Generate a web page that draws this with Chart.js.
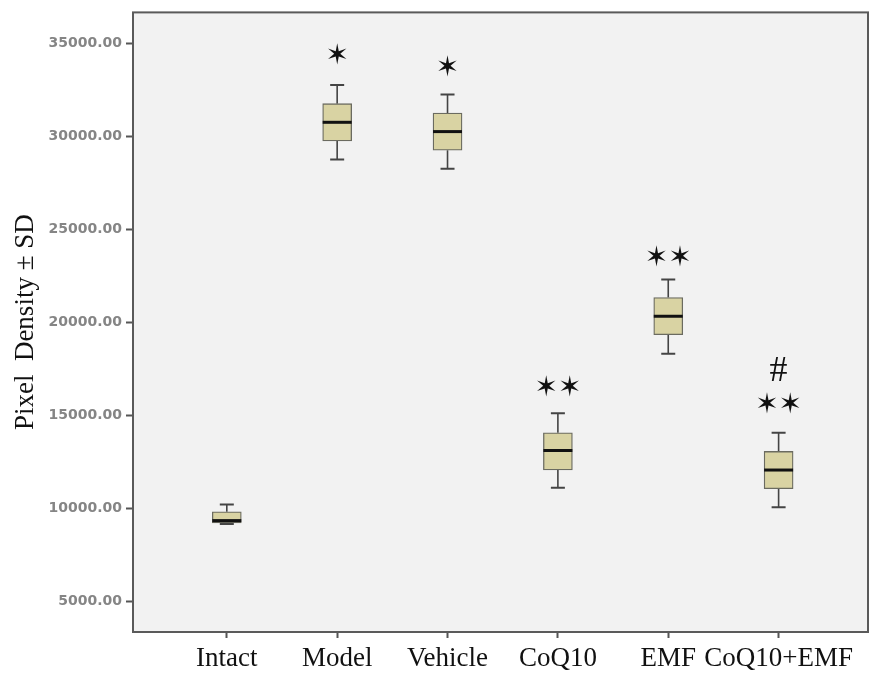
<!DOCTYPE html>
<html>
<head>
<meta charset="utf-8">
<script src="https://cdn.jsdelivr.net/npm/chart.js@4.4.1/dist/chart.umd.min.js"></script>
<style>
  html, body { margin: 0; padding: 0; background: #ffffff; }
  canvas { display: block; }
</style>
</head>
<body>
<canvas id="boxChart" width="871" height="675"></canvas>
<script>
// Groups along the x axis
const categories = ["Intact", "Model", "Vehicle", "CoQ10", "EMF", "CoQ10+EMF"];

// Five-number summaries
const whiskerLow = [9150, 28750, 28250, 11100, 18300, 10050];
const quart1 = [9200, 29750, 29250, 12050, 19330, 11050];
const medians = [9330, 30750, 30250, 13100, 20320, 12050];
const quart3 = [9800, 31750, 31250, 14050, 21330, 13050];
const whiskerHigh = [10200, 32750, 32250, 15100, 22300, 14050];

// Significance marks above the boxes
const markCategory = [1, 2, 3, 4, 5, 5];
const markText = ["✶", "✶", "✶✶", "✶✶", "✶✶", "#"];
const markValue = [34300, 33620, 16400, 23420, 15490, 17370];

// Y tick values
const yTicks = [5000, 10000, 15000, 20000, 25000, 30000, 35000];

const BOX_W = 29;
const CAP_W = 14;

// Draws plot background, whiskers, medians, marks and the frame
const boxParts = {
  id: "boxParts",
  beforeDraw(chart) {
    const { ctx, chartArea: a } = chart;
    ctx.save();
    ctx.fillStyle = "#f2f2f2";
    ctx.fillRect(a.left, a.top, a.right - a.left, a.bottom - a.top);
    ctx.restore();
  },
  beforeDatasetsDraw(chart) {
    const { ctx } = chart;
    const xs = chart.scales.x, ys = chart.scales.y;
    ctx.save();
    ctx.strokeStyle = "#444";
    categories.forEach((c, i) => {
      const x = xs.getPixelForValue(i);
      const lo = ys.getPixelForValue(whiskerLow[i]);
      const hi = ys.getPixelForValue(whiskerHigh[i]);
      ctx.lineWidth = 1.6;
      ctx.beginPath();
      ctx.moveTo(x, hi); ctx.lineTo(x, ys.getPixelForValue(quart3[i]));
      ctx.moveTo(x, lo); ctx.lineTo(x, ys.getPixelForValue(quart1[i]));
      ctx.stroke();
      ctx.lineWidth = 2;
      ctx.beginPath();
      ctx.moveTo(x - CAP_W / 2, hi); ctx.lineTo(x + CAP_W / 2, hi);
      ctx.moveTo(x - CAP_W / 2, lo); ctx.lineTo(x + CAP_W / 2, lo);
      ctx.stroke();
    });
    ctx.restore();
  },
  afterDatasetsDraw(chart) {
    const { ctx, chartArea: a } = chart;
    const xs = chart.scales.x, ys = chart.scales.y;
    ctx.save();
    // medians
    ctx.strokeStyle = "#111";
    ctx.lineWidth = 3;
    categories.forEach((c, i) => {
      const x = xs.getPixelForValue(i);
      const y = ys.getPixelForValue(medians[i]);
      ctx.beginPath();
      ctx.moveTo(x - BOX_W / 2, y); ctx.lineTo(x + BOX_W / 2, y);
      ctx.stroke();
    });
    // significance marks
    ctx.fillStyle = "#111";
    ctx.textAlign = "center";
    ctx.textBaseline = "middle";
    markText.forEach((t, k) => {
      ctx.font = t === "#" ? "36px 'Liberation Serif'" : "28px 'DejaVu Sans'";
      ctx.fillText(t, xs.getPixelForValue(markCategory[k]), ys.getPixelForValue(markValue[k]));
    });
    // frame
    ctx.strokeStyle = "#5a5a5a";
    ctx.lineWidth = 2;
    ctx.strokeRect(a.left, a.top, a.right - a.left, a.bottom - a.top);
    ctx.restore();
  }
};

new Chart(document.getElementById("boxChart"), {
  type: "bar",
  data: {
    datasets: [
      {
        label: "IQR",
        data: categories.map((c, i) => ({ x: i, y: [quart1[i], quart3[i]] })),
        backgroundColor: "#d9d3a3",
        borderColor: "#6b6b60",
        borderWidth: 1.3,
        borderSkipped: false,
        barThickness: BOX_W,
      },
    ],
  },
  options: {
    responsive: false,
    animation: false,
    layout: { padding: { left: 0, top: 10, right: 3, bottom: 0 } },
    plugins: { legend: { display: false }, tooltip: { enabled: false } },
    scales: {
      x: {
        type: "linear",
        offset: false,
        min: -0.85,
        max: 5.81,
        afterBuildTicks: (s) => { s.ticks = categories.map((c, i) => ({ value: i })); },
        afterFit: (s) => { s.height = 43; },
        ticks: {
          callback: (v) => categories[v],
          autoSkip: false,
          maxRotation: 0,
          color: "#111",
          font: { family: "'Liberation Serif', serif", size: 27 },
          padding: 5,
        },
        grid: { offset: false, drawOnChartArea: false, tickLength: 6, color: "#555", tickWidth: 2 },
        border: { display: false },
      },
      y: {
        min: 3340,
        max: 36660,
        afterBuildTicks: (s) => { s.ticks = yTicks.map((v) => ({ value: v })); },
        afterFit: (s) => { s.width = 133; },
        ticks: {
          callback: (v) => v.toFixed(2),
          color: "#858585",
          font: { family: "'DejaVu Sans', sans-serif", size: 14, weight: "bold" },
          padding: 4,
        },
        grid: { drawOnChartArea: false, tickLength: 7, color: "#555", tickWidth: 2 },
        border: { display: false },
        title: {
          display: true,
          text: "Pixel  Density ± SD",
          color: "#111",
          font: { family: "'Liberation Serif', serif", size: 27 },
          padding: { top: 10, bottom: 0 },
        },
      },
    },
  },
  plugins: [boxParts],
});
</script>
</body>
</html>
